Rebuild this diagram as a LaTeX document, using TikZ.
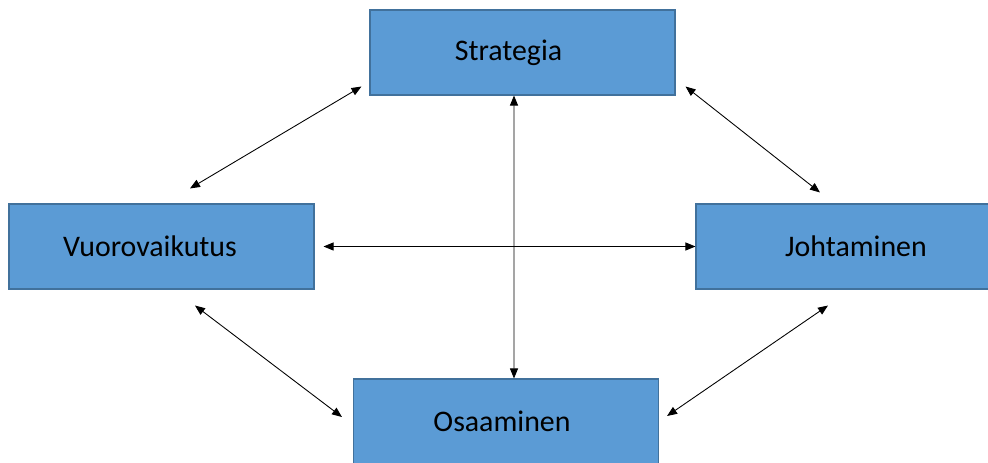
\documentclass[tikz,border=0pt]{standalone}
\usepackage{fontspec}
\setmainfont{Carlito}
\usetikzlibrary{arrows.meta}
\definecolor{laatikko}{HTML}{5B9BD5}
\definecolor{reuna}{HTML}{41719C}
\tikzset{
  laatikko/.style={draw=reuna, line width=0.6pt, fill=laatikko, minimum width=61mm, minimum height=17mm, font=\fontsize{17}{20}\selectfont},
  nuoli/.style={{Triangle[length=2mm,width=1.6mm]}-{Triangle[length=2mm,width=1.6mm]}, line width=0.5pt}
}
\begin{document}
\begin{tikzpicture}[x=0.2mm, y=-0.2mm]
    \useasboundingbox (0,0) rectangle (988,463);

    % Laatikot
    \node[laatikko] (str) at (522.5,52.5) {\hspace{-5.6mm}Strategia};
    \node[laatikko] (vuo) at (161.5,246.5) {\hspace{-4.6mm}Vuorovaikutus};
    \node[laatikko] (joh) at (848.5,246.5) {\hspace{3mm}Johtaminen};
    \node[laatikko] (osa) at (506,421.5) {\hspace{-1.6mm}Osaaminen};

    % Nuolet
    \draw[nuoli] ([xshift=-1.6mm,yshift=1.8mm]str.south west) -- ([xshift=5.7mm,yshift=3mm]vuo.north);
    \draw[nuoli] ([xshift=2mm,yshift=1.8mm]str.south east) -- ([xshift=-5.7mm,yshift=2.2mm]joh.north);
    \draw[nuoli] ([xshift=-1.7mm]str.south) -- ([xshift=1.6mm]osa.north);
    \draw[nuoli] ([xshift=1.8mm]vuo.east) -- (joh.west);
    \draw[nuoli] ([xshift=6.7mm,yshift=-3.2mm]vuo.south) -- ([xshift=-2.2mm,yshift=0.9mm]osa.west);
    \draw[nuoli] ([xshift=-4.1mm,yshift=-3.2mm]joh.south) -- ([xshift=1.6mm,yshift=1.1mm]osa.east);
\end{tikzpicture}
\end{document}
